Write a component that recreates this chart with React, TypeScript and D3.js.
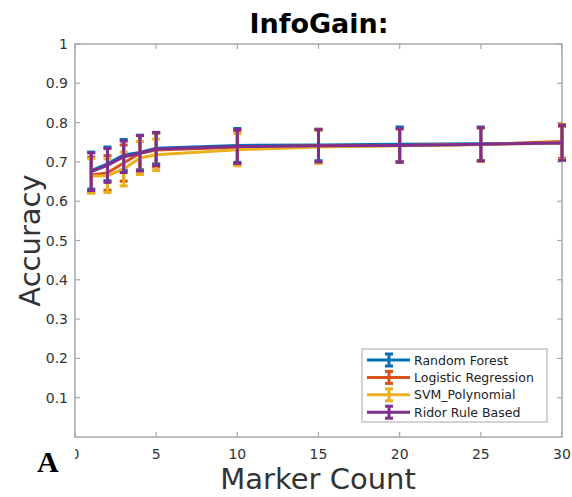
import React from "react";
import * as d3 from "d3";

const markerCounts = [1, 2, 3, 4, 5, 10, 15, 20, 25, 30];

const rfMean = [0.678, 0.695, 0.718, 0.724, 0.735, 0.742, 0.743, 0.745, 0.746, 0.748];
const rfErr = [0.047, 0.043, 0.039, 0.044, 0.04, 0.043, 0.04, 0.044, 0.043, 0.042];

const lrMean = [0.667, 0.672, 0.697, 0.722, 0.73, 0.737, 0.741, 0.742, 0.744, 0.752];
const lrErr = [0.045, 0.044, 0.046, 0.045, 0.043, 0.042, 0.042, 0.042, 0.043, 0.043];

const svmMean = [0.664, 0.665, 0.682, 0.71, 0.718, 0.731, 0.738, 0.741, 0.744, 0.748];
const svmErr = [0.044, 0.043, 0.043, 0.042, 0.04, 0.041, 0.042, 0.042, 0.042, 0.042];

const ridorMean = [0.675, 0.691, 0.713, 0.722, 0.733, 0.739, 0.741, 0.742, 0.745, 0.748];
const ridorErr = [0.048, 0.043, 0.04, 0.045, 0.042, 0.043, 0.041, 0.043, 0.042, 0.044];

const seriesNames = ["Random Forest", "Logistic Regression", "SVM_Polynomial", "Ridor Rule Based"];
const seriesColors = ["#0072BD", "#D95319", "#EDB120", "#7E2F8E"];

const xTicks = [0, 5, 10, 15, 20, 25, 30];
const yTicks = [0.1, 0.2, 0.3, 0.4, 0.5, 0.6, 0.7, 0.8, 0.9, 1];

const font = "DejaVu Sans, sans-serif";

const App = () => {
  const width = 572;
  const height = 497;
  const left = 75;
  const right = 562;
  const top = 44;
  const bottom = 437;

  const x = d3.scaleLinear().domain([0, 30]).range([left, right]);
  const y = d3.scaleLinear().domain([0, 1]).range([bottom, top]);

  const series = [
    { mean: rfMean, err: rfErr },
    { mean: lrMean, err: lrErr },
    { mean: svmMean, err: svmErr },
    { mean: ridorMean, err: ridorErr },
  ];

  const line = d3
    .line<number>()
    .x((d, i) => x(markerCounts[i]))
    .y((d) => y(d));

  const axisColor = "#a8a8a8";
  const textColor = "#333333";
  const cap = 4;

  return (
    <svg width={width} height={height} style={{ position: "absolute", left: 0, top: 0, background: "#fff" }}>
      <rect x={0} y={0} width={width} height={height} fill="#fff" />

      {/* ticks */}
      {xTicks.map((t) => (
        <g key={"xt" + t}>
          <line x1={x(t)} x2={x(t)} y1={bottom} y2={bottom - 5} stroke={axisColor} strokeWidth={1.2} />
          <line x1={x(t)} x2={x(t)} y1={top} y2={top + 5} stroke={axisColor} strokeWidth={1.2} />
          <text x={x(t)} y={bottom + 22} textAnchor="middle" fontFamily={font} fontSize={14} fill={textColor}>
            {t}
          </text>
        </g>
      ))}
      {yTicks.map((t) => (
        <g key={"yt" + t}>
          <line x1={left} x2={left + 5} y1={y(t)} y2={y(t)} stroke={axisColor} strokeWidth={1.2} />
          <line x1={right} x2={right - 5} y1={y(t)} y2={y(t)} stroke={axisColor} strokeWidth={1.2} />
          <text x={left - 7} y={y(t) + 5} textAnchor="end" fontFamily={font} fontSize={14} fill={textColor}>
            {t}
          </text>
        </g>
      ))}

      {/* box */}
      <rect x={left} y={top} width={right - left} height={bottom - top} fill="none" stroke={axisColor} strokeWidth={1.5} />

      {/* series */}
      {series.map((s, si) => (
        <g key={"s" + si} stroke={seriesColors[si]} strokeWidth={3} fill="none">
          <path d={line(s.mean) || ""} />
          {s.mean.map((m, i) => {
            const cx = x(markerCounts[i]);
            const lo = y(m - s.err[i]);
            const hi = y(m + s.err[i]);
            return (
              <g key={i}>
                <line x1={cx} x2={cx} y1={lo} y2={hi} />
                <line x1={cx - cap} x2={cx + cap} y1={lo} y2={lo} />
                <line x1={cx - cap} x2={cx + cap} y1={hi} y2={hi} />
              </g>
            );
          })}
        </g>
      ))}

      {/* legend */}
      <rect x={362} y={349} width={185} height={73} fill="#fff" stroke={axisColor} strokeWidth={1} />
      {seriesNames.map((name, i) => {
        const ly = 360 + i * 17.4;
        return (
          <g key={name}>
            <g stroke={seriesColors[i]} strokeWidth={3}>
              <line x1={367} x2={410} y1={ly} y2={ly} />
              <line x1={389} x2={389} y1={ly - 6} y2={ly + 6} />
              <line x1={385} x2={393} y1={ly - 6} y2={ly - 6} />
              <line x1={385} x2={393} y1={ly + 6} y2={ly + 6} />
            </g>
            <text x={414} y={ly + 4.5} fontFamily={font} fontSize={12.5} fill="#222">
              {name}
            </text>
          </g>
        );
      })}

      {/* title and labels */}
      <text x={319} y={33} textAnchor="middle" fontFamily={font} fontWeight="bold" fontSize={27} fill="#000">
        InfoGain:
      </text>
      <text x={318} y={489} textAnchor="middle" fontFamily={font} fontSize={29} fill={textColor}>
        Marker Count
      </text>
      <text
        transform={`translate(40,${(top + bottom) / 2}) rotate(-90)`}
        textAnchor="middle"
        fontFamily={font}
        fontSize={29}
        fill={textColor}
      >
        Accuracy
      </text>

      {/* panel letter */}
      <rect x={28} y={440} width={47} height={40} fill="#fff" />
      <text x={37} y={472} fontFamily="Liberation Serif, serif" fontWeight="bold" fontSize={30} fill="#000">
        A
      </text>
    </svg>
  );
};

export default App;
